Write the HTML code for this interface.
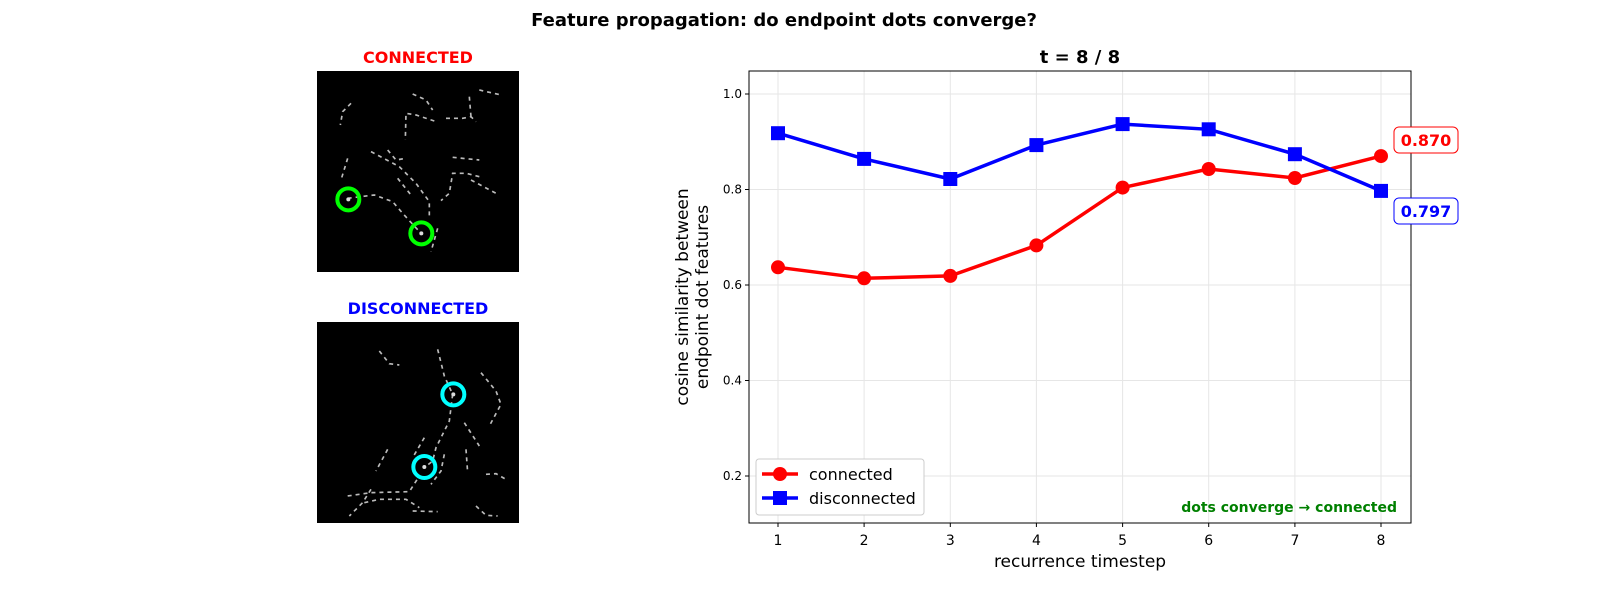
<!DOCTYPE html>
<html><head><meta charset="utf-8"><style>
body{margin:0;background:#fff}
svg{display:block;font-family:"DejaVu Sans","Liberation Sans",sans-serif}
</style></head><body>
<svg width="1600" height="600" viewBox="0 0 1600 600" xmlns="http://www.w3.org/2000/svg">
<rect width="1600" height="600" fill="#fff"/>
<text x="784" y="26" font-size="18" font-weight="bold" text-anchor="middle">Feature propagation: do endpoint dots converge?</text>

<!-- connected image -->
<text x="418" y="63" font-size="16" font-weight="bold" fill="#ff0000" text-anchor="middle">CONNECTED</text>
<rect x="317" y="71" width="202" height="201" fill="#000"/>
<g transform="translate(316,70) scale(0.3333)" fill="none" stroke="#bbb" stroke-width="5" stroke-dasharray="12 12">
<path d="M105,100 L80,125 L73,165"/>
<path d="M290,72 L330,90 L350,120"/>
<path d="M355,153 L300,135 L270,130 L268,210"/>
<path d="M390,145 L440,145 L465,140 L480,155 M465,140 L460,80"/>
<path d="M490,60 L555,75"/>
<path d="M95,265 L75,330"/>
<path d="M165,245 L250,290 L300,340 L340,395 L340,440"/>
<path d="M215,240 L240,270 L270,265"/>
<path d="M245,325 L285,375"/>
<path d="M410,262 L490,270"/>
<path d="M490,320 L450,310 L410,310 L400,370 L375,392 M465,330 L540,370"/>
<path d="M95,385 L175,375 L230,395 L260,430 L315,490"/>
<path d="M365,475 L345,545"/>
</g>
<g transform="translate(316,70) scale(0.3333)">
<circle cx="97" cy="388" r="6" fill="#ddd"/><circle cx="316" cy="490" r="6" fill="#ddd"/>
<circle cx="97" cy="388" r="33" fill="none" stroke="#00ff00" stroke-width="12"/>
<circle cx="316" cy="490" r="33" fill="none" stroke="#00ff00" stroke-width="12"/>
</g>

<!-- disconnected image -->
<text x="418" y="314" font-size="16" font-weight="bold" fill="#0000ff" text-anchor="middle">DISCONNECTED</text>
<rect x="317" y="322" width="202" height="201" fill="#000"/>
<g transform="translate(316,321) scale(0.3333)" fill="none" stroke="#bbb" stroke-width="5" stroke-dasharray="12 12">
<path d="M190,90 L220,128 L250,132"/>
<path d="M365,85 L385,165 L410,220"/>
<path d="M495,155 L540,210 L555,250 L520,315"/>
<path d="M410,220 L400,300 L360,380 L350,420 L325,440"/>
<path d="M445,305 L490,375"/>
<path d="M325,350 L290,410"/>
<path d="M215,385 L180,450"/>
<path d="M385,400 L375,450 L345,490"/>
<path d="M450,385 L455,455"/>
<path d="M510,460 L540,458 L575,478"/>
<path d="M95,525 L165,515 L280,512 L310,465"/>
<path d="M165,505 L140,545 L100,585"/>
<path d="M145,545 L190,535 L270,535 L310,560"/>
<path d="M290,570 L365,572"/>
<path d="M480,555 L510,583 L545,585"/>
</g>
<g transform="translate(316,321) scale(0.3333)">
<circle cx="412" cy="220" r="6" fill="#ddd"/><circle cx="325" cy="438" r="6" fill="#ddd"/>
<circle cx="412" cy="220" r="33" fill="none" stroke="#00ffff" stroke-width="12"/>
<circle cx="325" cy="438" r="33" fill="none" stroke="#00ffff" stroke-width="12"/>
</g>

<!-- chart -->
<text x="1080" y="63" font-size="18" font-weight="bold" text-anchor="middle">t = 8 / 8</text>
<g stroke="#e6e6e6" stroke-width="1">
<line x1="749" y1="476" x2="1411" y2="476"/><line x1="749" y1="380.5" x2="1411" y2="380.5"/>
<line x1="749" y1="285" x2="1411" y2="285"/><line x1="749" y1="189.5" x2="1411" y2="189.5"/>
<line x1="749" y1="94" x2="1411" y2="94"/>
<line x1="778" y1="71" x2="778" y2="523"/><line x1="864.1" y1="71" x2="864.1" y2="523"/>
<line x1="950.3" y1="71" x2="950.3" y2="523"/><line x1="1036.4" y1="71" x2="1036.4" y2="523"/>
<line x1="1122.6" y1="71" x2="1122.6" y2="523"/><line x1="1208.7" y1="71" x2="1208.7" y2="523"/>
<line x1="1294.9" y1="71" x2="1294.9" y2="523"/><line x1="1381" y1="71" x2="1381" y2="523"/>
</g>
<rect x="749" y="71" width="662" height="452" fill="none" stroke="#000" stroke-width="1"/>
<g stroke="#000">
<line x1="745" y1="476" x2="749" y2="476"/><line x1="745" y1="380.5" x2="749" y2="380.5"/>
<line x1="745" y1="285" x2="749" y2="285"/><line x1="745" y1="189.5" x2="749" y2="189.5"/>
<line x1="745" y1="94" x2="749" y2="94"/>
<line x1="778" y1="523" x2="778" y2="527"/><line x1="864.1" y1="523" x2="864.1" y2="527"/>
<line x1="950.3" y1="523" x2="950.3" y2="527"/><line x1="1036.4" y1="523" x2="1036.4" y2="527"/>
<line x1="1122.6" y1="523" x2="1122.6" y2="527"/><line x1="1208.7" y1="523" x2="1208.7" y2="527"/>
<line x1="1294.9" y1="523" x2="1294.9" y2="527"/><line x1="1381" y1="523" x2="1381" y2="527"/>
</g>
<g font-size="12" text-anchor="end">
<text x="742" y="480">0.2</text><text x="742" y="384.5">0.4</text><text x="742" y="289">0.6</text>
<text x="742" y="193.5">0.8</text><text x="742" y="98">1.0</text>
</g>
<g font-size="14" text-anchor="middle">
<text x="778" y="545">1</text><text x="864.1" y="545">2</text><text x="950.3" y="545">3</text>
<text x="1036.4" y="545">4</text><text x="1122.6" y="545">5</text><text x="1208.7" y="545">6</text>
<text x="1294.9" y="545">7</text><text x="1381" y="545">8</text>
</g>
<text x="1080" y="567" font-size="17" text-anchor="middle">recurrence timestep</text>
<text transform="translate(688,297) rotate(-90)" font-size="17" text-anchor="middle">cosine similarity between</text>
<text transform="translate(708,297) rotate(-90)" font-size="17" text-anchor="middle">endpoint dot features</text>

<polyline points="778,267.3 864.1,278.3 950.3,275.9 1036.4,245.4 1122.6,187.6 1208.7,169 1294.9,178 1381,156.1" fill="none" stroke="#ff0000" stroke-width="3.5"/>
<g fill="#ff0000">
<circle cx="778" cy="267.3" r="7"/><circle cx="864.1" cy="278.3" r="7"/><circle cx="950.3" cy="275.9" r="7"/>
<circle cx="1036.4" cy="245.4" r="7"/><circle cx="1122.6" cy="187.6" r="7"/><circle cx="1208.7" cy="169" r="7"/>
<circle cx="1294.9" cy="178" r="7"/><circle cx="1381" cy="156.1" r="7"/>
</g>
<polyline points="778,133.2 864.1,158.9 950.3,179 1036.4,145.1 1122.6,124.1 1208.7,129.3 1294.9,154.2 1381,190.9" fill="none" stroke="#0000ff" stroke-width="3.5"/>
<g fill="#0000ff">
<rect x="771" y="126.2" width="14" height="14"/><rect x="857.1" y="151.9" width="14" height="14"/>
<rect x="943.3" y="172" width="14" height="14"/><rect x="1029.4" y="138.1" width="14" height="14"/>
<rect x="1115.6" y="117.1" width="14" height="14"/><rect x="1201.7" y="122.3" width="14" height="14"/>
<rect x="1287.9" y="147.2" width="14" height="14"/><rect x="1374" y="183.9" width="14" height="14"/>
</g>
<rect x="1394" y="127" width="64" height="26" rx="5" fill="#fff" stroke="#ff0000"/>
<text x="1426" y="146" font-size="16" font-weight="bold" fill="#ff0000" text-anchor="middle">0.870</text>
<rect x="1394" y="198" width="64" height="26" rx="5" fill="#fff" stroke="#0000ff"/>
<text x="1426" y="217" font-size="16" font-weight="bold" fill="#0000ff" text-anchor="middle">0.797</text>
<text x="1397" y="512" font-size="14" font-weight="bold" fill="#008000" text-anchor="end">dots converge → connected</text>

<rect x="756" y="459" width="168" height="56" rx="3" fill="#fff" stroke="#ccc"/>
<line x1="762" y1="474" x2="798" y2="474" stroke="#ff0000" stroke-width="3.5"/>
<circle cx="780" cy="474" r="7" fill="#ff0000"/>
<text x="809" y="480" font-size="16">connected</text>
<line x1="762" y1="498" x2="798" y2="498" stroke="#0000ff" stroke-width="3.5"/>
<rect x="773" y="491" width="14" height="14" fill="#0000ff"/>
<text x="809" y="504" font-size="16">disconnected</text>
</svg>
</body></html>
